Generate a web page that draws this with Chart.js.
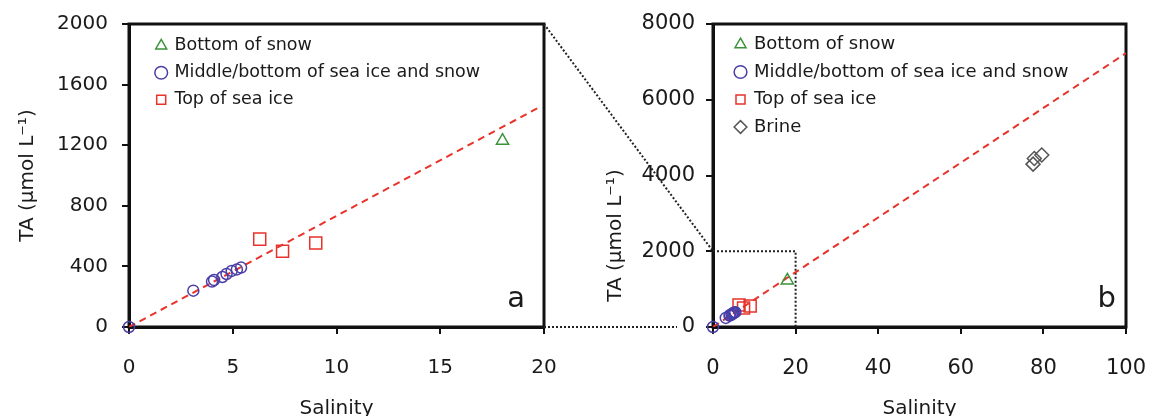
<!DOCTYPE html>
<html>
<head>
<meta charset="utf-8">
<script src="https://cdn.jsdelivr.net/npm/chart.js@4.4.1/dist/chart.umd.min.js"></script>
<style>
  html, body { margin: 0; padding: 0; background: #fff; overflow: hidden; }
  #wrap { position: relative; width: 1152px; height: 416px; overflow: hidden; }
  #wrap canvas { position: absolute; top: 0; }
  #chartA { left: 0; }
  #chartB { left: 576px; }
  #links { left: 0; pointer-events: none; }
</style>
</head>
<body>
<div id="wrap">
  <canvas id="chartA" width="576" height="430"></canvas>
  <canvas id="chartB" width="576" height="430"></canvas>
  <canvas id="links" width="1152" height="416"></canvas>
</div>
<script>
// values (salinity vs total alkalinity)
const snowSal = [18.0];
const snowTA = [1230];

const iceSal = [0, 3.1, 4.0, 4.1, 4.5, 4.7, 4.95, 5.2, 5.4];
const iceTA = [0, 240, 300, 310, 330, 350, 370, 380, 392];

const topSal = [6.3, 7.4, 9.0];
const topTA = [580, 500, 555];

const brineSal = [77.5, 77.8, 79.6];
const brineTA = [4300, 4450, 4540];

// dashed regression line, end points as drawn
const fitSalA = [0, 19.7];
const fitTAA = [0, 1445];
const fitSalB = [0, 100];
const fitTAB = [0, 7230];

// dotted zoom box on panel b
const boxSal = [0, 20, 20];
const boxTA = [2000, 2000, 0];

// ticks
const xTicksA = [0, 5, 10, 15, 20];
const yTicksA = [0, 400, 800, 1200, 1600, 2000];
const xTicksB = [0, 20, 40, 60, 80, 100];
const yTicksB = [0, 2000, 4000, 6000, 8000];

const labels = ['Bottom of snow', 'Middle/bottom of sea ice and snow', 'Top of sea ice', 'Brine'];
const xTitle = 'Salinity';
const yTitle = 'TA (μmol L⁻¹)';

const GREEN = '#3a923a';
const BLUE = '#4a3fa8';
const RED = '#e8322a';
const GREY = '#555555';
const INK = '#1a1a1a';
const FONT = '"DejaVu Sans", Verdana, sans-serif';

Chart.defaults.font.family = FONT;
Chart.defaults.color = INK;

function pts(xs, ys) {
    return xs.map((x, i) => ({ x: x, y: ys[i] }));
}

function markers(label, xs, ys, style, color, radius) {
    return {
        label: label,
        data: pts(xs, ys),
        showLine: false,
        pointStyle: style,
        pointRadius: radius,
        pointHoverRadius: radius,
        pointBorderColor: color,
        pointBackgroundColor: 'transparent',
        pointBorderWidth: 1.5,
        borderColor: color,
        backgroundColor: 'transparent',
        borderWidth: 1.5,
        clip: false
    };
}

function line(xs, ys, color, dash) {
    return {
        label: '',
        data: pts(xs, ys),
        showLine: true,
        borderColor: color,
        borderWidth: 2,
        borderDash: dash,
        pointRadius: 0,
        fill: false,
        tension: 0
    };
}

function axis(tickVals, opts) {
    const horiz = opts.horizontal;
    return {
        type: 'linear',
        position: horiz ? 'bottom' : 'left',
        min: tickVals[0],
        max: tickVals[tickVals.length - 1],
        afterBuildTicks: (s) => { s.ticks = tickVals.map(v => ({ value: v })); },
        afterFit: (s) => {
            if (horiz) s.height = opts.size;
            else s.width = opts.size;
            // labels may hang over the edges, the layout padding takes care of that
            s.paddingLeft = s.paddingRight = s.paddingTop = s.paddingBottom = 0;
        },
        grid: {
            display: true,
            drawOnChartArea: false,
            drawTicks: true,
            tickLength: 7,
            color: '#111',
            lineWidth: 2
        },
        border: { display: true, color: '#111', width: 3 },
        ticks: {
            padding: opts.tickPad,
            color: INK,
            font: { size: opts.tickFont },
            callback: (v) => String(v)
        },
        title: {
            display: !!opts.title,
            text: opts.title || '',
            color: INK,
            font: { size: 20 },
            padding: opts.titlePad
        }
    };
}

// box round the plot area
const framePlugin = {
    id: 'frame',
    beforeDatasetsDraw(chart) {
        const { ctx, chartArea: a } = chart;
        ctx.save();
        ctx.strokeStyle = '#111';
        ctx.lineWidth = 3;
        ctx.strokeRect(a.left, a.top, a.right - a.left, a.bottom - a.top);
        ctx.restore();
    }
};

// the big "a" / "b" in the corner
const panelLetter = {
    id: 'panelLetter',
    afterDraw(chart, args, opts) {
        const { ctx, chartArea: a } = chart;
        ctx.save();
        ctx.font = '29px ' + FONT;
        ctx.fillStyle = INK;
        ctx.textAlign = 'right';
        ctx.textBaseline = 'alphabetic';
        ctx.fillText(opts.text, a.right - opts.dx, a.bottom - opts.dy);
        ctx.restore();
    }
};

// rotated y title, its centre can sit below the middle of the axis
const sideTitle = {
    id: 'sideTitle',
    afterDraw(chart, args, opts) {
        const { ctx, chartArea: a } = chart;
        const y = chart.scales.y;
        ctx.save();
        ctx.translate(y.left + opts.x, (a.top + a.bottom) / 2 + opts.dy);
        ctx.rotate(-Math.PI / 2);
        ctx.font = '20px ' + FONT;
        ctx.fillStyle = INK;
        ctx.textAlign = 'center';
        ctx.textBaseline = 'middle';
        ctx.fillText(yTitle, 0, 0);
        ctx.restore();
    }
};

// put the legend inside the plot, near the top left corner
const legendOffset = {
    id: 'legendOffset',
    afterLayout(chart, args, opts) {
        const lg = chart.legend;
        if (!lg) return;
        lg.left = chart.chartArea.left + opts.x;
        lg.top = chart.chartArea.top + opts.y;
    }
};

function makeChart(id, datasets, cfg) {
    const nMarkers = cfg.nMarkers;
    return new Chart(document.getElementById(id), {
        type: 'scatter',
        data: { datasets: datasets },
        options: {
            responsive: false,
            animation: false,
            events: [],
            layout: { padding: { left: 0, right: cfg.padRight, top: 24, bottom: 0 } },
            scales: {
                x: axis(cfg.xTicks, { horizontal: true, size: 103, tickPad: 22, tickFont: cfg.tickFont, title: xTitle, titlePad: { top: 0, bottom: 9 } }),
                y: axis(cfg.yTicks, { horizontal: false, size: cfg.yWidth, tickPad: cfg.yTickPad, tickFont: cfg.tickFont })
            },
            plugins: {
                legend: {
                    position: 'chartArea',
                    align: 'start',
                    labels: {
                        usePointStyle: true,
                        boxWidth: 9,
                        boxHeight: 9,
                        padding: 9.5,
                        color: INK,
                        font: { size: cfg.legendFont },
                        filter: (item) => item.datasetIndex < nMarkers
                    }
                },
                tooltip: { enabled: false },
                legendOffset: cfg.legendShift,
                panelLetter: cfg.letter,
                sideTitle: cfg.yTitlePos
            }
        },
        plugins: [framePlugin, panelLetter, legendOffset, sideTitle]
    });
}

const chartA = makeChart('chartA', [
    markers(labels[0], snowSal, snowTA, 'triangle', GREEN, 7),
    markers(labels[1], iceSal, iceTA, 'circle', BLUE, 5.5),
    markers(labels[2], topSal, topTA, 'rect', RED, 8.5),
    line(fitSalA, fitTAA, RED, [7, 5])
], {
    nMarkers: 3,
    xTicks: xTicksA,
    yTicks: yTicksA,
    padRight: 32,
    yWidth: 129,
    yTickPad: 14,
    tickFont: 20,
    legendFont: 17.5,
    legendShift: { x: 18.2, y: 3.5 },
    letter: { text: 'a', dx: 19, dy: 20 },
    yTitlePos: { x: 28, dy: 0 }
});

const chartB = makeChart('chartB', [
    markers(labels[0], snowSal, snowTA, 'triangle', GREEN, 7),
    markers(labels[1], iceSal, iceTA, 'circle', BLUE, 5.5),
    markers(labels[2], topSal, topTA, 'rect', RED, 8.5),
    markers(labels[3], brineSal, brineTA, 'rectRot', GREY, 7),
    line(fitSalB, fitTAB, RED, [7, 5]),
    line(boxSal, boxTA, '#222', [2, 2])
], {
    nMarkers: 4,
    xTicks: xTicksB,
    yTicks: yTicksB,
    padRight: 26,
    yWidth: 137,
    yTickPad: 11,
    tickFont: 21,
    legendFont: 18,
    legendShift: { x: 13.5, y: 2 },
    letter: { text: 'b', dx: 10, dy: 20 },
    yTitlePos: { x: 40, dy: 60 }
});

// dotted lines joining panel a to the zoom box in panel b
function drawLinks() {
    const ctx = document.getElementById('links').getContext('2d');
    const offB = 576;
    const ax = chartA.scales.x, ay = chartA.scales.y;
    const bx = chartB.scales.x, by = chartB.scales.y;
    const xEdge = xTicksA[xTicksA.length - 1];
    const yEdge = yTicksA[yTicksA.length - 1];
    ctx.save();
    ctx.strokeStyle = '#222';
    ctx.lineWidth = 2;
    ctx.setLineDash([2, 2]);
    ctx.beginPath();
    ctx.moveTo(ax.getPixelForValue(xEdge), ay.getPixelForValue(yEdge));
    ctx.lineTo(offB + bx.getPixelForValue(0), by.getPixelForValue(yEdge));
    ctx.moveTo(ax.getPixelForValue(xEdge), ay.getPixelForValue(0));
    ctx.lineTo(offB + bx.getPixelForValue(0) - 36, by.getPixelForValue(0));
    ctx.stroke();
    ctx.restore();
}
drawLinks();
</script>
</body>
</html>
